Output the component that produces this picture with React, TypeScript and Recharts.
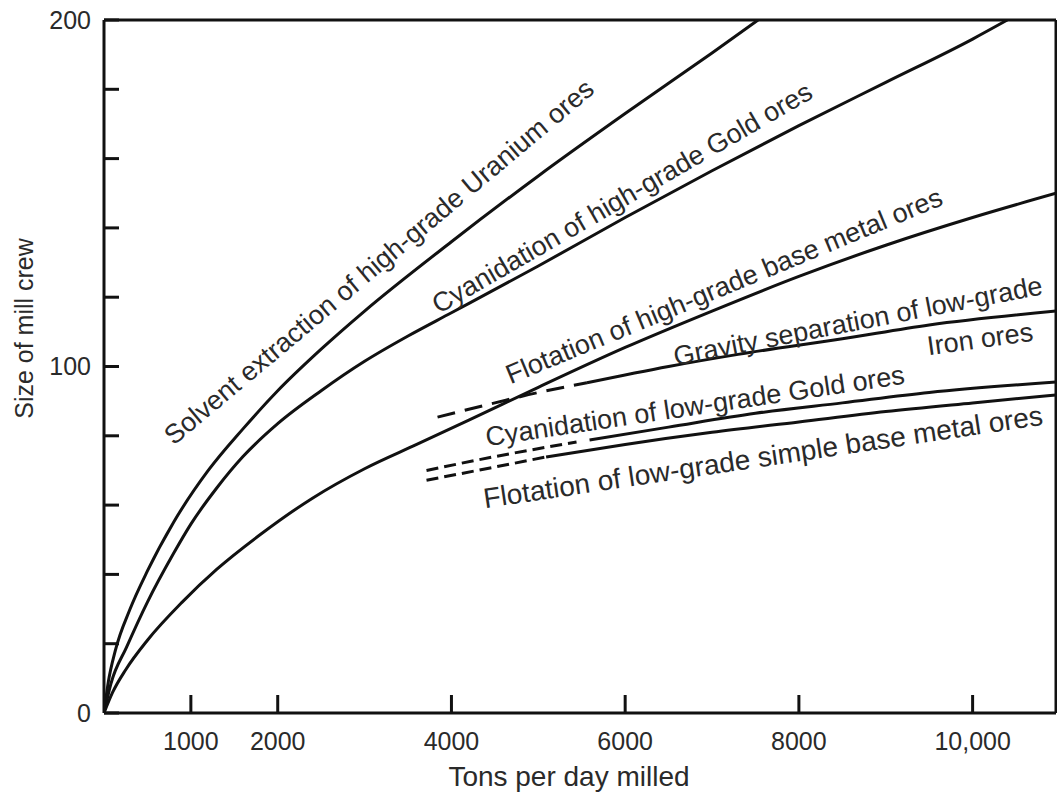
import React from "react";
import { LineChart, Line, XAxis, YAxis } from "recharts";

// Tons per day milled vs. size of mill crew
const URANIUM_HG: [number, number][] = [
  [0, 0], [50, 9], [130, 18], [300, 30], [500, 41], [800, 55], [1200, 70],
  [1600, 82], [2000, 93], [2500, 105], [3000, 116], [4000, 136], [5000, 155],
  [6000, 173], [7000, 190.5], [7530, 200],
];

const GOLD_HG: [number, number][] = [
  [0, 0], [80, 8.5], [260, 19], [500, 32], [800, 46], [1000, 54.5], [1300, 65],
  [1600, 74], [2000, 83.5], [2500, 93], [3000, 101.5], [3500, 108.8], [4000, 115.5],
  [5000, 129], [6000, 143], [7000, 156.5], [8000, 169.5], [9000, 182], [10000, 194.5],
  [10400, 200],
];

const BASE_METAL_HG: [number, number][] = [
  [0, 0], [100, 6], [250, 12.5], [500, 21], [900, 32], [1300, 41.5], [1800, 51.5],
  [2400, 62], [3000, 70.5], [3600, 77.5], [4200, 84.5], [5000, 94], [6000, 105.5],
  [7000, 116], [8000, 126], [9000, 135], [10000, 143], [10960, 150],
];

const IRON_LG_DASHED: [number, number][] = [
  [3840, 85.4], [4500, 89.5], [5000, 92.5], [5560, 95.3],
];
const IRON_LG: [number, number][] = [
  [5560, 95.3], [6500, 100], [7300, 103.5], [8500, 108], [9500, 112], [10960, 116],
];

const GOLD_LG_DASHED: [number, number][] = [
  [3713, 70], [4500, 74], [5440, 78.2],
];
const GOLD_LG: [number, number][] = [
  [5590, 78.8], [6500, 82.5], [7500, 86.5], [8500, 89.5], [9500, 92.5], [10960, 95.5],
];

const BASE_METAL_LG_DASHED: [number, number][] = [
  [3713, 67.2], [4400, 70.5], [5090, 73.9],
];
const BASE_METAL_LG: [number, number][] = [
  [5090, 73.9], [6000, 77.5], [7000, 81], [8000, 84], [9000, 87], [10000, 89.5], [10960, 91.8],
];

const X_TICKS = [1000, 2000, 4000, 6000, 8000, 10000];
const Y_TICKS = [0, 20, 40, 60, 80, 100, 120, 140, 160, 180, 200];
const Y_INNER_TICKS = [20, 40, 60, 80, 100, 120, 140, 160, 180];
const Y_LABELED = [0, 100, 200];

const CURVE_LABELS = [
  { text: "Solvent extraction of high-grade Uranium ores", cx: 379, cy: 262, angle: -40, size: 27 },
  { text: "Cyanidation of high-grade Gold ores", cx: 622, cy: 198, angle: -30, size: 27 },
  { text: "Flotation of high-grade base metal ores", cx: 724, cy: 286, angle: -22.5, size: 27 },
  { text: "Gravity separation of low-grade", cx: 858, cy: 321, angle: -11, size: 27 },
  { text: "Iron ores", cx: 980, cy: 339, angle: -8, size: 27 },
  { text: "Cyanidation of low-grade Gold ores", cx: 695, cy: 406, angle: -8.5, size: 27 },
  { text: "Flotation of low-grade simple base metal ores", cx: 763, cy: 457, angle: -8.5, size: 28 },
];

const FONT = '"Liberation Sans", Arial, Helvetica, sans-serif';
const INK = "#111";
const TEXT = "#2a2a2a";

const toPoints = (pts: [number, number][]) => pts.map(([x, y]) => ({ x, y }));

function formatX(v: number) {
  return v === 10000 ? "10,000" : String(v);
}

export default function App() {
  const lineProps = {
    dataKey: "y",
    stroke: INK,
    strokeWidth: 3,
    dot: false,
    activeDot: false,
    isAnimationActive: false,
  } as const;

  return (
    <div
      style={{
        position: "absolute",
        left: 0,
        top: 0,
        width: 1057,
        height: 792,
        background: "#fff",
        fontFamily: FONT,
      }}
    >
      <LineChart width={1057} height={792} margin={{ top: 19, right: 0, bottom: 0, left: 0 }}>
        <XAxis
          dataKey="x"
          type="number"
          domain={[0, 10960]}
          allowDataOverflow
          ticks={X_TICKS}
          tickFormatter={formatX}
          tickSize={-18}
          tickMargin={37}
          height={79}
          axisLine={{ stroke: INK, strokeWidth: 3 }}
          tickLine={{ stroke: INK, strokeWidth: 3 }}
          tick={{ fill: TEXT, fontSize: 25, fontFamily: FONT }}
          label={{
            value: "Tons per day milled",
            position: "insideBottom",
            offset: 6,
            dx: -11,
            fill: TEXT,
            fontSize: 28,
            fontFamily: FONT,
          }}
        />
        <XAxis
          xAxisId="top"
          orientation="top"
          dataKey="x"
          type="number"
          domain={[0, 10960]}
          allowDataOverflow
          ticks={X_TICKS}
          tick={false}
          tickSize={-18}
          height={1}
          axisLine={{ stroke: INK, strokeWidth: 3 }}
          tickLine={{ stroke: INK, strokeWidth: 3 }}
        />
        <YAxis
          type="number"
          domain={[0, 200]}
          allowDataOverflow
          ticks={Y_TICKS}
          tickFormatter={(v: number) => (Y_LABELED.includes(v) ? String(v) : "")}
          tickSize={-15}
          tickMargin={28}
          width={104}
          axisLine={{ stroke: INK, strokeWidth: 3 }}
          tickLine={{ stroke: INK, strokeWidth: 3 }}
          tick={{ fill: TEXT, fontSize: 25, fontFamily: FONT }}
          label={{
            value: "Size of mill crew",
            angle: -90,
            position: "insideLeft",
            offset: 24,
            dy: -38,
            fill: TEXT,
            fontSize: 25,
            fontFamily: FONT,
            style: { textAnchor: "middle" },
          }}
        />
        <YAxis
          yAxisId="right"
          orientation="right"
          type="number"
          domain={[0, 200]}
          allowDataOverflow
          ticks={Y_INNER_TICKS}
          tick={false}
          tickSize={-12}
          width={1}
          axisLine={{ stroke: INK, strokeWidth: 3 }}
          tickLine={{ stroke: INK, strokeWidth: 3 }}
        />

        <Line {...lineProps} type="monotone" data={toPoints(URANIUM_HG)} />
        <Line {...lineProps} type="monotone" data={toPoints(GOLD_HG)} />
        <Line {...lineProps} type="monotone" data={toPoints(BASE_METAL_HG)} />

        <Line {...lineProps} type="monotone" data={toPoints(IRON_LG_DASHED)} strokeDasharray="18 10" />
        <Line {...lineProps} type="monotone" data={toPoints(IRON_LG)} />

        <Line {...lineProps} type="monotone" data={toPoints(GOLD_LG_DASHED)} strokeDasharray="12 6" />
        <Line {...lineProps} type="monotone" data={toPoints(GOLD_LG)} />

        <Line {...lineProps} type="monotone" data={toPoints(BASE_METAL_LG_DASHED)} strokeDasharray="12 6" />
        <Line {...lineProps} type="monotone" data={toPoints(BASE_METAL_LG)} />
      </LineChart>

      {/* curve annotations */}
      <svg
        width={1057}
        height={792}
        style={{ position: "absolute", left: 0, top: 0, pointerEvents: "none" }}
      >
        {CURVE_LABELS.map((l) => (
          <text
            key={l.text}
            x={l.cx}
            y={l.cy}
            textAnchor="middle"
            dominantBaseline="central"
            fontSize={l.size}
            fontFamily={FONT}
            fill={TEXT}
            transform={`rotate(${l.angle} ${l.cx} ${l.cy})`}
          >
            {l.text}
          </text>
        ))}
      </svg>
    </div>
  );
}
